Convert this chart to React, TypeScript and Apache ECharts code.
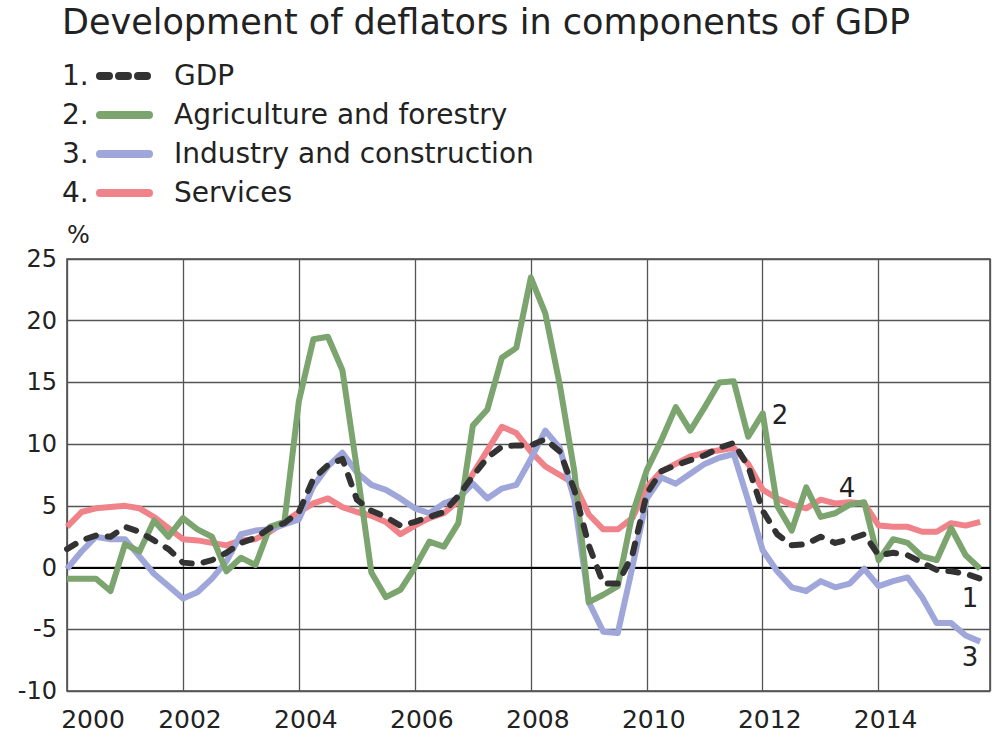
import React, { useEffect, useRef } from "react";
import * as echarts from "echarts";

const years: number[] = [2000, 2001, 2002, 2003, 2004, 2005, 2006, 2007, 2008, 2009, 2010, 2011, 2012, 2013, 2014, 2015];
const quarterOffsets: number[] = [0, 0.25, 0.5, 0.75];

const gdp: number[] = [1.5, 2.2, 2.6, 2.5, 3.3, 2.9, 2.2, 1.5, 0.4, 0.3, 0.6, 1.2, 2.0, 2.4, 3.2, 3.6, 4.5, 7.2, 8.3, 8.8, 5.5, 4.6, 4.1, 3.4, 3.7, 4.1, 4.5, 5.8, 7.4, 8.9, 9.8, 9.9, 9.9, 10.4, 9.4, 6.3, 1.8, -1.3, -1.3, 1.0, 6.0, 7.8, 8.3, 8.7, 9.1, 9.7, 10.1, 8.2, 4.6, 2.7, 1.8, 1.9, 2.5, 2.0, 2.3, 2.7, 1.0, 1.2, 1.0, 0.4, -0.2, -0.3, -0.5, -0.9];
const agriculture: number[] = [-0.9, -0.9, -0.9, -1.9, 1.9, 1.3, 3.8, 2.5, 4.0, 3.1, 2.5, -0.3, 0.8, 0.2, 3.3, 3.7, 13.5, 18.5, 18.7, 16.0, 8.0, -0.4, -2.4, -1.8, 0.0, 2.1, 1.7, 3.6, 11.5, 12.8, 17.0, 17.8, 23.5, 20.6, 14.8, 7.8, -2.8, -2.2, -1.5, 4.3, 7.9, 10.3, 13.0, 11.1, 13.0, 15.0, 15.1, 10.6, 12.5, 5.0, 3.0, 6.5, 4.1, 4.4, 5.1, 5.3, 0.6, 2.3, 2.0, 0.9, 0.6, 3.2, 1.0, -0.1];
const industry: number[] = [-0.1, 1.3, 2.5, 2.3, 2.3, 0.9, -0.5, -1.5, -2.5, -2.0, -0.9, 0.5, 2.7, 3.0, 3.1, 3.5, 3.9, 6.6, 8.2, 9.3, 7.7, 6.7, 6.3, 5.6, 4.8, 4.4, 5.2, 5.6, 6.8, 5.6, 6.4, 6.7, 8.8, 11.1, 9.7, 5.5, -2.8, -5.2, -5.3, 0.0, 5.6, 7.3, 6.8, 7.6, 8.4, 8.9, 9.2, 5.4, 1.4, -0.3, -1.6, -1.9, -1.1, -1.6, -1.3, -0.1, -1.5, -1.1, -0.8, -2.4, -4.5, -4.5, -5.5, -6.0];
const services: number[] = [3.3, 4.5, 4.8, 4.9, 5.0, 4.8, 4.1, 3.2, 2.3, 2.2, 2.0, 1.8, 2.2, 2.3, 2.9, 3.7, 4.5, 5.2, 5.6, 4.9, 4.5, 4.2, 3.7, 2.7, 3.4, 4.0, 4.4, 5.4, 7.6, 9.5, 11.4, 10.9, 9.4, 8.2, 7.5, 6.8, 4.3, 3.1, 3.1, 4.0, 6.5, 7.8, 8.4, 9.0, 9.3, 9.5, 9.7, 8.4, 6.3, 5.6, 5.1, 4.8, 5.5, 5.2, 5.3, 5.2, 3.4, 3.3, 3.3, 2.9, 2.9, 3.6, 3.4, 3.7];

const seriesNames: string[] = ["GDP", "Agriculture and forestry", "Industry and construction", "Services"];
const seriesNumbers: string[] = ["1.", "2.", "3.", "4."];
const seriesColors: string[] = ["#333333", "#7ba46e", "#9ea6da", "#f08389"];
const endLabels: string[] = ["1", "2", "3", "4"];
const titleText = "Development of deflators in components of GDP";
const yTicks = { min: -10, max: 25, interval: 5 };

const xs: number[] = [];
years.forEach((y) => quarterOffsets.forEach((q) => xs.push(y + q)));

const FONT = "DejaVu Sans";

export default function App() {
  const ref = useRef<HTMLDivElement>(null);
  useEffect(() => {
    if (!ref.current) return;
    const chart = echarts.init(ref.current, null, { renderer: "svg" });
    const allData = [gdp, agriculture, industry, services];
    const series: any[] = allData.map((arr, k) => ({
      name: seriesNames[k],
      type: "line",
      data: arr.map((v, i) => [xs[i], v]),
      showSymbol: false,
      symbol: "none",
      z: k === 0 ? 5 : 5 - k,
      lineStyle: {
        color: seriesColors[k],
        width: 6,
        type: k === 0 ? [10, 12] : "solid",
        cap: k === 0 ? "round" : "butt",
        join: "round",
      },
      itemStyle: { color: seriesColors[k] },
    }));
    series[0].markLine = {
      silent: true,
      symbol: "none",
      label: { show: false },
      lineStyle: { color: "#000", width: 2, type: "solid" },
      data: [{ yAxis: 0 }],
      z: 1,
    };

    const g: any[] = [];
    const rowY = [75, 114, 153, 192];
    seriesNames.forEach((n, k) => {
      g.push({
        type: "text",
        x: 62,
        y: rowY[k],
        style: { text: seriesNumbers[k], fontSize: 28, fontFamily: FONT, fill: "#222", verticalAlign: "middle" },
      });
      g.push({
        type: "line",
        shape: { x1: 100, y1: rowY[k] + 1, x2: 149, y2: rowY[k] + 1 },
        style: {
          stroke: seriesColors[k],
          lineWidth: 8,
          lineDash: k === 0 ? [9, 10] : null,
          lineCap: "round",
        },
      });
      g.push({
        type: "text",
        x: 174,
        y: rowY[k],
        style: { text: n, fontSize: 28, fontFamily: FONT, fill: "#222", verticalAlign: "middle" },
      });
    });
    const labelPos = [
      [970, 598],
      [780, 415],
      [970, 657],
      [847, 488],
    ];
    endLabels.forEach((t, k) => {
      g.push({
        type: "text",
        x: labelPos[k][0],
        y: labelPos[k][1],
        style: {
          text: t,
          fontSize: 26,
          fontFamily: FONT,
          fill: "#222",
          align: "center",
          verticalAlign: "middle",
        },
        z: 10,
      });
    });

    chart.setOption({
      animation: false,
      backgroundColor: "#fff",
      title: {
        text: titleText,
        left: 62,
        top: 4,
        padding: 0,
        textStyle: { fontSize: 35, fontWeight: "normal", fontFamily: FONT, color: "#222" },
      },
      grid: {
        left: 67,
        top: 259,
        width: 923,
        height: 432,
        show: true,
        borderColor: "#444",
        borderWidth: 1.5,
        containLabel: false,
      },
      xAxis: {
        type: "value",
        min: 2000,
        max: 2015.92,
        interval: 2,
        axisLine: { show: false },
        axisTick: { show: false },
        splitLine: { show: true, lineStyle: { color: "#555", width: 1.3 } },
        axisLabel: {
          fontSize: 25,
          fontFamily: FONT,
          color: "#222",
          margin: 16,
          showMaxLabel: false,
          formatter: (v: number) => {
            const r = Math.round(v);
            if (Math.abs(v - r) > 1e-6 || r % 2 !== 0) return "";
            return r === 2000 ? `{f|${r}}` : `{n|${r}}`;
          },
          rich: {
            f: { fontSize: 25, fontFamily: FONT, color: "#222", padding: [0, 0, 0, 52] },
            n: { fontSize: 25, fontFamily: FONT, color: "#222", padding: [0, 0, 0, 14] },
          },
        },
      },
      yAxis: {
        type: "value",
        min: yTicks.min,
        max: yTicks.max,
        interval: yTicks.interval,
        name: "%",
        nameLocation: "end",
        nameGap: 12,
        nameTextStyle: { fontSize: 24, fontFamily: FONT, color: "#222", align: "left" },
        axisLine: { show: false },
        axisTick: { show: false },
        splitLine: { show: true, lineStyle: { color: "#555", width: 1.3 } },
        axisLabel: { fontSize: 24, fontFamily: FONT, color: "#222", margin: 10 },
      },
      series,
      graphic: g,
    });
    return () => chart.dispose();
  }, []);
  return <div ref={ref} style={{ position: "fixed", left: 0, top: 0, width: 992, height: 742 }} />;
}
